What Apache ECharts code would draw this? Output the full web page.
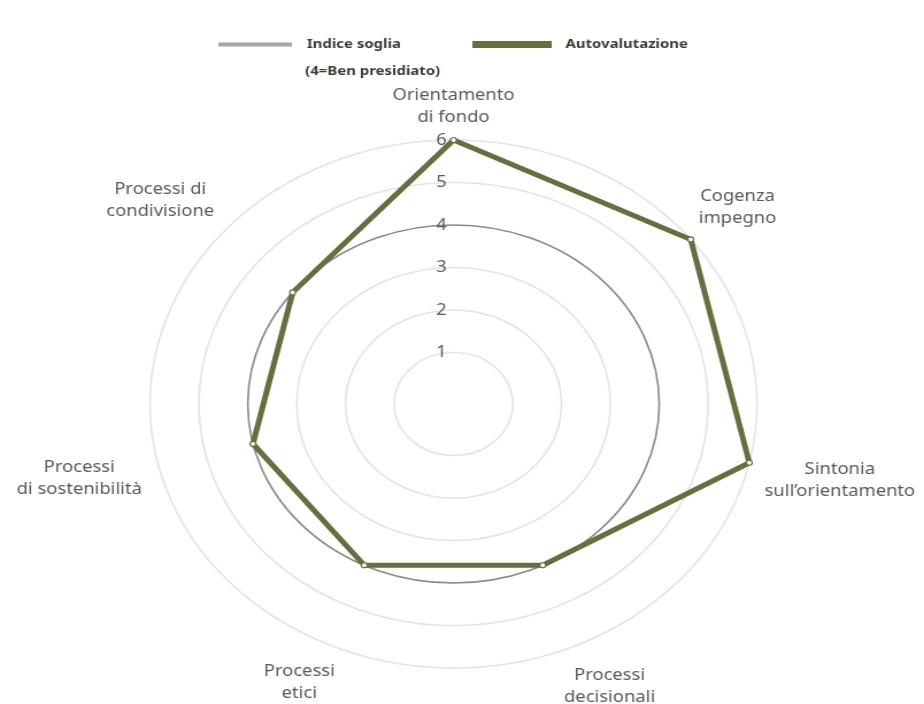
<!DOCTYPE html>
<html>
<head>
<meta charset="utf-8">
<script src="https://cdn.jsdelivr.net/npm/echarts@6/dist/echarts.min.js"></script>
<style>
  html, body { margin: 0; padding: 0; background: #ffffff; overflow: hidden; }
  #wrap { width: 924px; height: 704px; overflow: hidden; }
  #c { width: 804px; height: 704px; transform: scaleX(1.1493); transform-origin: 0 0; }
</style>
</head>
<body>
<div id="wrap"><div id="c"></div></div>
<script>
// ---- data ----
const categories = [
  'Orientamento\ndi fondo',
  'Cogenza\nimpegno',
  'Sintonia\nsull\u2019orientamento',
  'Processi\ndecisionali',
  'Processi\netici',
  'Processi\ndi sostenibilit\u00e0',
  'Processi di\ncondivisione'
];
const thresholdValues = [4, 4, 4, 4, 4, 4, 4];      // Indice soglia (4=Ben presidiato)
const selfAssessment = [6, 6, 6, 4, 4, 4, 4];       // Autovalutazione
const radialTicks = [0, 1, 2, 3, 4, 5, 6];
const seriesNames = ['Indice soglia', 'Autovalutazione'];
const thresholdNote = '(4=Ben presidiato)';

// ---- layout / style ----
const CX = 394.6, CY = 404, R_IN = 9, R_OUT = 264;
const GREEN = '#66703f';
const GRAY_RING = '#8a8a8a';
const LIGHT_RING = '#e4e4e4';
const NAME_FONT = 16, NAME_LH = 22, NAME_GAP = 12;
const FONT = '"Noto Sans", "DejaVu Sans", sans-serif';

const N = categories.length;
// ECharts radar runs counter-clockwise; the reference runs clockwise from the top,
// so indicators are handed over in reversed order (first one kept at the top).
const order = categories.map((_, k) => (N - k) % N);
const reorder = arr => order.map(i => arr[i]);

const chart = echarts.init(document.getElementById('c'), null, { renderer: 'canvas' });

// ring colours: the ring equal to the threshold is darker
const ringColors = radialTicks.map(v => v === 0 ? 'rgba(0,0,0,0)' : (v === thresholdValues[0] ? GRAY_RING : LIGHT_RING));

// indicator name placement (centred boxes outside the outer ring, clockwise from top)
const ctx = document.createElement('canvas').getContext('2d');
ctx.font = NAME_FONT + 'px ' + FONT;
const nameGraphics = categories.map((name, i) => {
  const th = i * 2 * Math.PI / N;
  const lines = name.split('\n');
  const halfW = Math.max(...lines.map(l => ctx.measureText(l).width)) / 2;
  const halfH = lines.length * NAME_LH / 2;
  const s = Math.sin(th), c = Math.cos(th);
  const D = R_OUT + NAME_GAP + halfW * Math.abs(s) + halfH * Math.abs(c);
  return {
    type: 'text',
    x: CX + D * s,
    y: CY - D * c,
    style: {
      text: name,
      align: 'center', verticalAlign: 'middle',
      textAlign: 'center', textVerticalAlign: 'middle',
      fontSize: NAME_FONT, fontFamily: FONT, lineHeight: NAME_LH,
      fill: '#595959'
    }
  };
});

const option = {
  backgroundColor: '#ffffff',
  animation: false,
  legend: [
    {
      left: 185, top: 33,
      icon: 'rect', itemWidth: 64, itemHeight: 4,
      selectedMode: false,
      data: [{ name: seriesNames[0], itemStyle: { color: '#a6a6a6', opacity: 1 } }],
      textStyle: { fontSize: 13, fontWeight: 'bold', color: '#3d3d33', fontFamily: FONT, padding: [0, 0, 0, 8] }
    },
    {
      left: 406, top: 33,
      icon: 'rect', itemWidth: 67, itemHeight: 5,
      selectedMode: false,
      data: [{ name: seriesNames[1], itemStyle: { color: GREEN, opacity: 1 } }],
      textStyle: { fontSize: 13, fontWeight: 'bold', color: '#3d3d33', fontFamily: FONT, padding: [0, 0, 0, 8] }
    }
  ],
  graphic: [
    {
      type: 'text', x: 265.5, y: 71,
      style: {
        text: thresholdNote, align: 'left', verticalAlign: 'middle',
        textAlign: 'left', textVerticalAlign: 'middle',
        fontSize: 13, fontWeight: 'bold', fontFamily: FONT, fill: '#3d3d33'
      }
    }
  ].concat(nameGraphics),
  radar: {
    center: [CX, CY],
    radius: [R_IN, R_OUT],
    shape: 'circle',
    startAngle: 90,
    splitNumber: radialTicks.length - 1,
    indicator: reorder(categories).map((name, k) => ({
      name: name, min: radialTicks[0], max: radialTicks[radialTicks.length - 1],
      axisLabel: { show: k === 0 }
    })),
    axisName: { show: false },
    axisLine: { show: false },
    axisTick: { show: false },
    axisLabel: {
      show: false, showMinLabel: false,
      fontSize: 16, color: '#595959', fontFamily: FONT, margin: 6
    },
    splitArea: { show: false },
    splitLine: { show: true, lineStyle: { color: ringColors, width: 1.6 } }
  },
  series: [
    {
      type: 'radar', name: seriesNames[0], silent: true, z: 1,
      symbol: 'none',
      itemStyle: { color: '#a6a6a6' },
      lineStyle: { color: '#a6a6a6', width: 0, opacity: 0 },
      data: [{ value: reorder(thresholdValues), name: seriesNames[0] }]
    },
    {
      type: 'radar', name: seriesNames[1], z: 3,
      symbol: 'circle', symbolSize: 5,
      itemStyle: { color: '#ffffff', borderColor: GREEN, borderWidth: 1.2 },
      lineStyle: { color: GREEN, width: 5 },
      data: [{ value: reorder(selfAssessment), name: seriesNames[1] }]
    }
  ]
};
chart.setOption(option);
</script>
</body>
</html>
